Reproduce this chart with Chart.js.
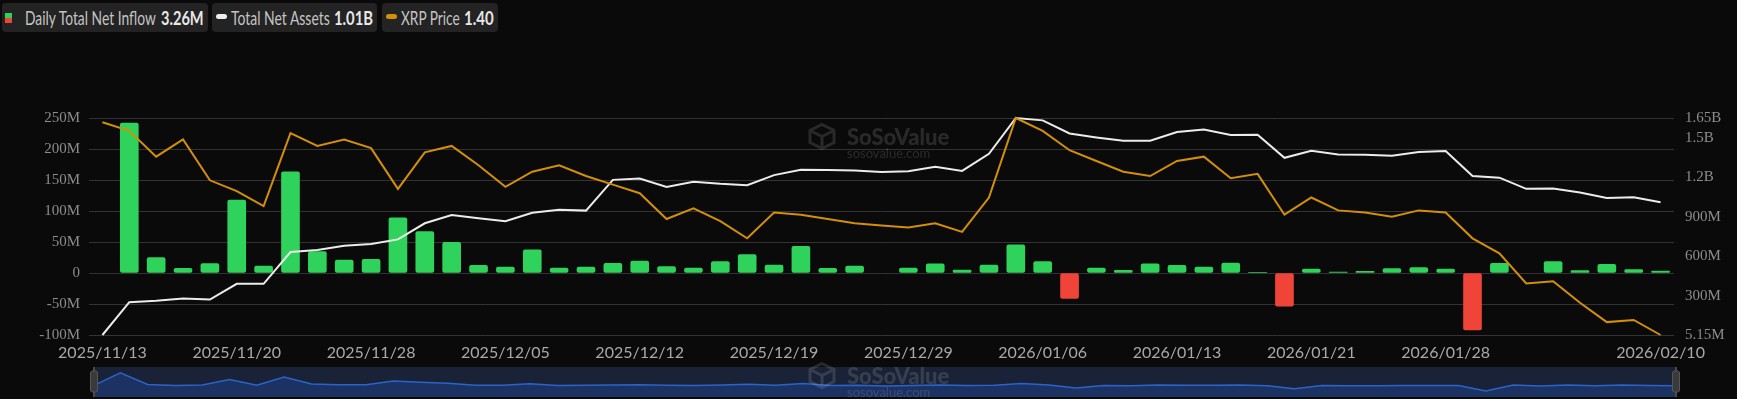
<!DOCTYPE html>
<html>
<head>
<meta charset="utf-8">
<script src="https://cdn.jsdelivr.net/npm/chart.js@4.4.1/dist/chart.umd.min.js"></script>
<style>
  html, body { margin: 0; padding: 0; background: #0a0a0a; width: 1737px; height: 399px; overflow: hidden; font-family: Lato, sans-serif; }
  #mainWrap { position: absolute; left: 0; top: 40px; width: 1737px; height: 330px; }
  #navWrap { position: absolute; left: 0; top: 362px; width: 1737px; height: 37px; }
  .box { position: absolute; top: 3px; height: 29px; background: #232323; border-radius: 4px; }
  .t { position: absolute; top: 8px; font-size: 19px; line-height: 19px; white-space: nowrap; transform-origin: 0 0; color: #c4c4c4; }
  .v { font-weight: 700; color: #e8e8e8; }
  .pill { position: absolute; top: 14px; width: 11px; height: 5px; border-radius: 3px; }
  .wm { position: absolute; color: rgba(255,255,255,0.13); white-space: nowrap; pointer-events: none; }
  .wm .name { position: absolute; left: 39px; top: 0; font: 900 22px Lato, sans-serif; line-height: 22px; }
  .wm .url { position: absolute; left: 39px; top: 21px; font: 400 13px Lato, sans-serif; line-height: 13px; }
  .wm svg { position: absolute; left: 0; top: -3px; }
</style>
</head>
<body>

<div class="box" style="left:2px;width:206px"></div>
<div style="position:absolute;left:5px;top:13px;width:7px;height:5px;background:#2fd25a"></div>
<div style="position:absolute;left:5px;top:18px;width:7px;height:5px;background:#f04438"></div>
<div class="t" data-w="131" style="left:25px">Daily Total Net Inflow</div>
<div class="t v" data-w="43" style="left:161px">3.26M</div>

<div class="box" style="left:212px;width:165px"></div>
<div class="pill" style="left:216px;background:#eeeeee"></div>
<div class="t" data-w="99" style="left:231px">Total Net Assets</div>
<div class="t v" data-w="39" style="left:334px">1.01B</div>

<div class="box" style="left:382px;width:116px"></div>
<div class="pill" style="left:386px;background:#d48f0a"></div>
<div class="t" data-w="59" style="left:401px">XRP Price</div>
<div class="t v" data-w="30" style="left:464px">1.40</div>

<div id="mainWrap"><canvas id="mainChart"></canvas></div>
<div id="navWrap"><canvas id="navChart"></canvas></div>

<div class="wm" style="left:808px;top:126px">
  <svg width="28" height="27" viewBox="0 0 28 27"><path d="M14 1.5 L26 7.5 L26 19.5 L14 25.5 L2 19.5 L2 7.5 Z M14 13.5 L26 7.5 M14 13.5 L2 7.5 M14 13.5 L14 25.5" fill="none" stroke="rgba(255,255,255,0.13)" stroke-width="3"/></svg>
  <div class="name">SoSoValue</div>
  <div class="url">sosovalue.com</div>
</div>
<div class="wm" style="left:808px;top:365px">
  <svg width="28" height="27" viewBox="0 0 28 27"><path d="M14 1.5 L26 7.5 L26 19.5 L14 25.5 L2 19.5 L2 7.5 Z M14 13.5 L26 7.5 M14 13.5 L2 7.5 M14 13.5 L14 25.5" fill="none" stroke="rgba(255,255,255,0.13)" stroke-width="3"/></svg>
  <div class="name">SoSoValue</div>
  <div class="url">sosovalue.com</div>
</div>

<script>
const dates = [
  '2025/11/13', '2025/11/14', '2025/11/17', '2025/11/18', '2025/11/19', '2025/11/20', '2025/11/21',
  '2025/11/24', '2025/11/25', '2025/11/26', '2025/11/28',
  '2025/12/01', '2025/12/02', '2025/12/03', '2025/12/04', '2025/12/05', '2025/12/08', '2025/12/09',
  '2025/12/10', '2025/12/11', '2025/12/12', '2025/12/15', '2025/12/16', '2025/12/17', '2025/12/18',
  '2025/12/19', '2025/12/22', '2025/12/23', '2025/12/24', '2025/12/26', '2025/12/29', '2025/12/30',
  '2025/12/31',
  '2026/01/02', '2026/01/05', '2026/01/06', '2026/01/07', '2026/01/08', '2026/01/09', '2026/01/12',
  '2026/01/13', '2026/01/14', '2026/01/15', '2026/01/16', '2026/01/20', '2026/01/21', '2026/01/22',
  '2026/01/23', '2026/01/26', '2026/01/27', '2026/01/28', '2026/01/29', '2026/01/30',
  '2026/02/03', '2026/02/04', '2026/02/05', '2026/02/06', '2026/02/09', '2026/02/10'
];

// daily total net inflow, millions USD
const inflow = [
  null, 242, 24.8, 7.5, 15, 117.5, 11.3, 163, 34.5, 21, 22,
  89, 67, 49.6, 12.4, 9.7, 37.2, 8, 9.7, 15.6, 19.4, 10.2, 8.1, 18.3, 29.6, 12.9, 43.1, 7.5, 11.3, null, 8, 14.6, 4.9,
  12.9, 45.3, 18.3, -41, 8.1, 4.4, 14.6, 12.4, 9.7, 16.2, 1.1, -53.4, 6.5, 1.6, 2.7, 7, 8.6, 6.5, -92, 15.6,
  null, 18.3, 3.8, 14, 5.4, 3.26
];

// total net assets, millions USD
const netAssets = [
  5.15, 254, 264, 282, 274, 393, 393, 634, 649, 682, 695,
  730, 852, 915, 890, 867, 932, 955, 948, 1181, 1191, 1128, 1166, 1151, 1141, 1217, 1257, 1255, 1252, 1240, 1247, 1280, 1249,
  1379, 1650, 1632, 1533, 1503, 1477, 1477, 1544, 1563, 1521, 1523, 1348, 1401, 1373, 1371, 1363, 1392, 1399, 1211, 1198,
  1113, 1115, 1085, 1044, 1049, 1011
];

const xrpPrice = [
  2.39, 2.35, 2.23, 2.31, 2.12, 2.07, 2.00, 2.34, 2.28, 2.31, 2.27,
  2.08, 2.25, 2.28, 2.19, 2.09, 2.16, 2.19, 2.14, 2.10, 2.06, 1.94, 1.99, 1.93, 1.85, 1.97, 1.96, 1.94, 1.92, 1.91, 1.90, 1.92, 1.88,
  2.04, 2.41, 2.35, 2.26, 2.21, 2.16, 2.14, 2.21, 2.23, 2.13, 2.15, 1.96, 2.04, 1.98, 1.97, 1.95, 1.98, 1.97, 1.85, 1.78,
  1.64, 1.65, 1.55, 1.46, 1.47, 1.40
];

const leftTicks = [-100, -50, 0, 50, 100, 150, 200, 250];
const rightTicks = [5.15, 300, 600, 900, 1200, 1500, 1650];

const GREEN = '#2fd25a';
const RED = '#f04438';
const WHITE = '#ececec';
const ORANGE = '#d48f0a';

// squeeze legend text to the narrow widths seen in the original
document.querySelectorAll('.t[data-w]').forEach(el => {
  const s = Number(el.dataset.w) / el.scrollWidth;
  el.style.transform = `scaleX(${s})`;
});

function fmtM(v) {
  if (v === 0) return '0';
  if (Math.abs(v) >= 1000) return (v / 1000) + 'B';
  return v + 'M';
}

const serif = { family: '"Liberation Serif", "Times New Roman", serif', size: 15 };

new Chart(document.getElementById('mainChart'), {
  type: 'bar',
  data: {
    labels: dates,
    datasets: [
      {
        type: 'line', label: 'XRP Price', data: xrpPrice, yAxisID: 'yp', order: 1,
        borderColor: ORANGE, borderWidth: 2, pointRadius: 0, tension: 0, clip: false
      },
      {
        type: 'line', label: 'Total Net Assets', data: netAssets, yAxisID: 'yr', order: 2,
        borderColor: WHITE, borderWidth: 2, pointRadius: 0, tension: 0, clip: false
      },
      {
        type: 'bar', label: 'Daily Total Net Inflow', data: inflow, yAxisID: 'y', order: 3,
        backgroundColor: inflow.map(v => (v < 0 ? RED : GREEN)),
        barThickness: 18, borderRadius: 2, borderSkipped: false
      }
    ]
  },
  options: {
    responsive: true,
    maintainAspectRatio: false,
    animation: false,
    layout: { padding: { top: 78, left: 0, right: 0, bottom: 0 } },
    plugins: { legend: { display: false }, tooltip: { enabled: false } },
    scales: {
      x: {
        offset: true,
        grid: { display: false, drawTicks: false },
        border: { display: false },
        ticks: {
          autoSkip: false, maxRotation: 0, padding: 8, color: '#a9a9a9',
          font: { family: 'Lato, sans-serif', size: 16 },
          callback: (v, i) => ((i % 5 === 0 && i <= 50) || i === dates.length - 1 ? dates[i] : '')
        },
        afterFit: s => { s.height = 35; }
      },
      y: {
        position: 'left', min: -100, max: 250,
        grid: { color: '#333333', lineWidth: 1, drawTicks: false },
        border: { display: false },
        ticks: { padding: 9, color: '#8c8c8c', font: serif, callback: v => fmtM(v) },
        afterBuildTicks: s => { s.ticks = leftTicks.map(v => ({ value: v })); },
        afterFit: s => { s.width = 89; }
      },
      yr: {
        position: 'right', min: 5.15, max: 1650,
        grid: { display: false, drawTicks: false },
        border: { display: false },
        ticks: { padding: 11, color: '#8c8c8c', font: serif, callback: v => fmtM(v) },
        afterBuildTicks: s => { s.ticks = rightTicks.map(v => ({ value: v })); },
        afterFit: s => { s.width = 63; }
      },
      yp: { display: false, min: 1.40, max: 2.41 }
    }
  }
});

const navBg = {
  id: 'navBg',
  beforeDatasetsDraw(chart) {
    const { ctx, chartArea: a } = chart;
    ctx.save();
    ctx.fillStyle = '#1a2237';
    ctx.fillRect(a.left, a.top, a.right - a.left, a.bottom - a.top);
    ctx.restore();
  },
  afterDraw(chart) {
    const { ctx, chartArea: a } = chart;
    ctx.save();
    [a.left + 1, a.right - 1].forEach(x => {
      ctx.fillStyle = '#4a4a4a';
      ctx.fillRect(x - 1, a.top, 2, a.bottom - a.top);
      ctx.fillStyle = '#3a3a3a';
      ctx.strokeStyle = '#555555';
      ctx.lineWidth = 1;
      ctx.beginPath();
      ctx.roundRect(x - 3.5, a.top + 4, 7, 21, 2);
      ctx.fill();
      ctx.stroke();
    });
    ctx.restore();
  }
};

new Chart(document.getElementById('navChart'), {
  type: 'line',
  data: {
    labels: dates,
    datasets: [{
      data: inflow.map(v => v ?? 0),
      borderColor: '#2a64c8', borderWidth: 1.5, pointRadius: 0, tension: 0,
      fill: 'start', backgroundColor: '#1c3262'
    }]
  },
  options: {
    responsive: true,
    maintainAspectRatio: false,
    animation: false,
    layout: { padding: { top: 5, bottom: 2, left: 93, right: 60 } },
    plugins: { legend: { display: false }, tooltip: { enabled: false } },
    scales: {
      x: { display: false, offset: false },
      y: { display: false, min: -205, max: 348 }
    }
  },
  plugins: [navBg]
});
</script>
</body>
</html>
